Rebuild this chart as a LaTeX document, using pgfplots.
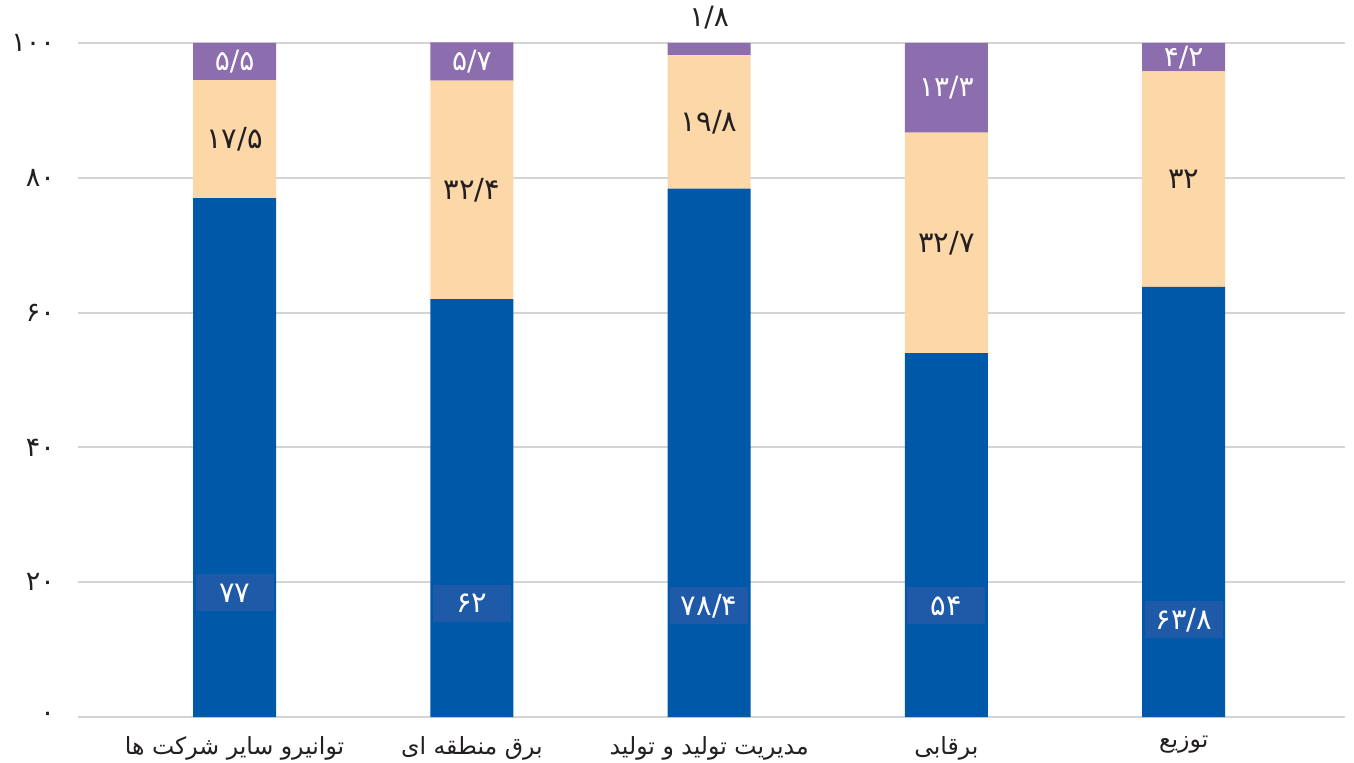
\documentclass[border=0pt]{standalone}
\usepackage{fontspec}
\usepackage{pgfplots}
\pgfplotsset{compat=1.18}
\TeXXeTstate=1
\newfontfamily\fa[Script=Arabic]{DejaVu Sans}
\definecolor{cblue}{RGB}{0,89,168}
\definecolor{cbox}{RGB}{30,90,168}
\definecolor{cpeach}{RGB}{252,216,168}
\definecolor{cpurp}{RGB}{140,109,174}
\definecolor{ctext}{RGB}{35,31,32}
\definecolor{cgrid}{RGB}{212,212,212}
\pgfplotsset{base/.style={scale only axis, width=633.5pt, height=337pt,
  xmin=-0.66, xmax=4.68, ymin=0, ymax=100,
  axis line style={draw=none}, tick style={draw=none}}}
\pgfplotstableread{
x y l
0 18.4 ۷۷
1 16.9 ۶۲
2 16.5 ۷۸/۴
3 16.5 ۵۴
4 14.4 ۶۳/۸
}\bluelab
\pgfplotstableread{
x y l
0 85.75 ۱۷/۵
1 78.2 ۳۲/۴
2 88.3 ۱۹/۸
3 70.35 ۳۲/۷
4 79.8 ۳۲
}\peachlab
\pgfplotstableread{
x y l
0 97.25 ۵/۵
1 97.2 ۵/۷
3 93.35 ۱۳/۳
4 97.9 ۴/۲
}\purplab
\pgfplotstableread{
x y l
2 103.8 ۱/۸
}\toplab
\begin{document}
\begin{tikzpicture}
\useasboundingbox (-39pt,-22.5pt) rectangle (638pt,358.5pt);
\begin{axis}[base, ybar stacked, bar width=0.35,
  ymajorgrids, grid style={cgrid, line width=1pt},
  ytick={0,20,40,60,80,100},
  yticklabels={۰,۲۰,۴۰,۶۰,۸۰,۱۰۰},
  yticklabel style={font=\fa\fontsize{13.5}{15}\selectfont, text=ctext, anchor=east, xshift=-8pt},
  xtick={0,1,2,3,4},
  xticklabels={{\beginR توانیرو سایر شرکت ها\endR},{\beginR برق منطقه ای\endR},{\beginR مدیریت تولید و تولید\endR},{\beginR برقابی\endR},{\beginR توزیع\endR}},
  xticklabel style={font=\fa\fontsize{11.8}{13}\selectfont, text=ctext, anchor=north, yshift=-6pt},
]
\addplot[fill=cblue, draw=none] coordinates {(0,77) (1,62) (2,78.4) (3,54) (4,63.8)};
\addplot[fill=cpeach, draw=none] coordinates {(0,17.5) (1,32.4) (2,19.8) (3,32.7) (4,32)};
\addplot[fill=cpurp, draw=none] coordinates {(0,5.5) (1,5.7) (2,1.8) (3,13.3) (4,4.2)};
\end{axis}
\begin{axis}[base, hide axis, clip=false]
\addplot[draw=none, mark=none, nodes near coords, point meta=explicit symbolic,
  every node near coord/.append style={anchor=center, font=\fa\fontsize{14.5}{16}\selectfont, text=white, fill=cbox, minimum width=39pt, minimum height=18.5pt, inner sep=0pt}]
  table[x=x, y=y, meta=l] {\bluelab};
\addplot[draw=none, mark=none, nodes near coords, point meta=explicit symbolic,
  every node near coord/.append style={anchor=center, font=\fa\fontsize{14.5}{16}\selectfont, text=ctext}]
  table[x=x, y=y, meta=l] {\peachlab};
\addplot[draw=none, mark=none, nodes near coords, point meta=explicit symbolic,
  every node near coord/.append style={anchor=center, font=\fa\fontsize{14}{16}\selectfont, text=white}]
  table[x=x, y=y, meta=l] {\purplab};
\addplot[draw=none, mark=none, nodes near coords, point meta=explicit symbolic,
  every node near coord/.append style={anchor=center, font=\fa\fontsize{14}{16}\selectfont, text=ctext}]
  table[x=x, y=y, meta=l] {\toplab};
\end{axis}
\end{tikzpicture}
\end{document}
